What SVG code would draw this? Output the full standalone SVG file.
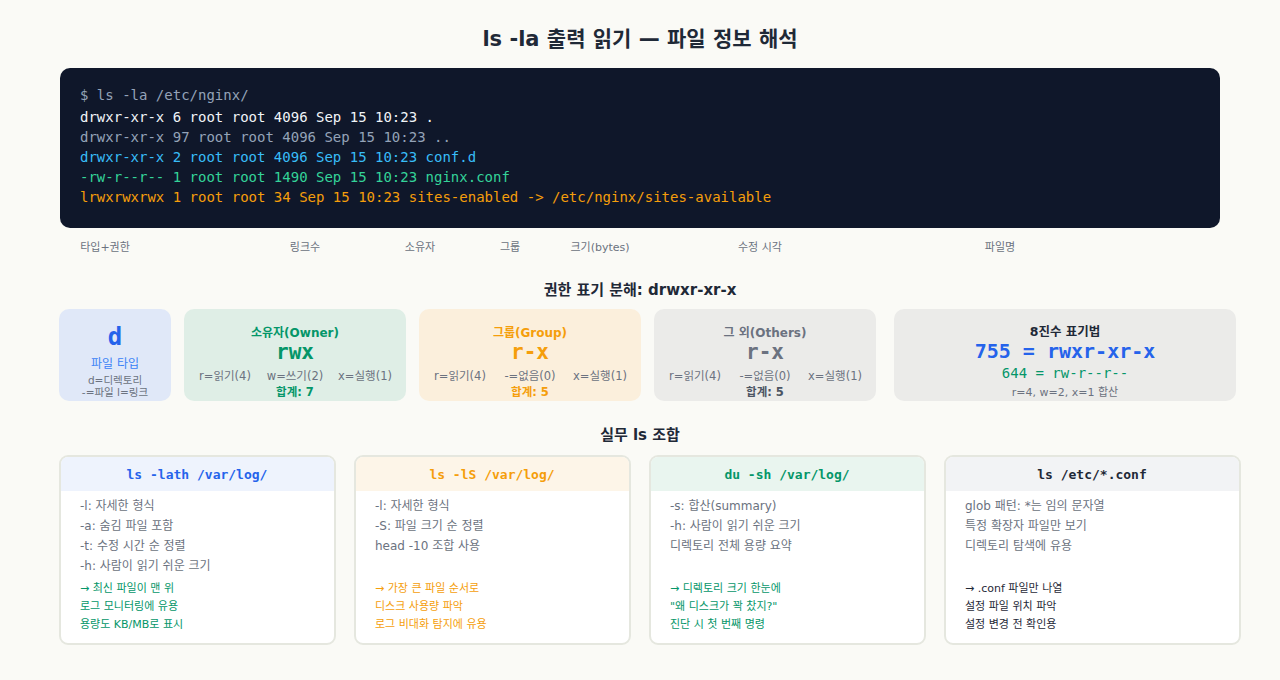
<svg xmlns="http://www.w3.org/2000/svg" width="1280" height="680" viewBox="0 0 1280 680">
<style>
text{font-family:"DejaVu Sans","Noto Sans CJK KR",sans-serif}
.m{font-family:"DejaVu Sans Mono","Noto Sans CJK KR",monospace}
.t{font-size:14px}
.lab{font-size:11px;fill:#6b7280;text-anchor:middle}
.c{text-anchor:middle}
.h{font-size:15px;font-weight:bold;fill:#1f2937;text-anchor:middle}
.s{font-size:11.5px;fill:#6b7280;text-anchor:middle}
.card{fill:#fff;stroke:#e5e7df;stroke-width:2}
.li{font-size:12px;fill:#6b7280}
.ac{font-size:11px}
</style>
<rect width="1280" height="680" fill="#fafaf6"/>
<text x="640" y="46" class="c" font-size="21" font-weight="bold" fill="#1f2937">ls -la 출력 읽기 — 파일 정보 해석</text>
<g id="terminal">
<rect x="60" y="68" width="1160" height="160" rx="10" fill="#0f172a"/>
<text x="80" y="100" class="m t" fill="#94a3b8">$ ls -la /etc/nginx/</text>
<text x="80" y="122" class="m t" fill="#f1f5f9">drwxr-xr-x 6 root root 4096 Sep 15 10:23 .</text>
<text x="80" y="142" class="m t" fill="#94a3b8">drwxr-xr-x 97 root root 4096 Sep 15 10:23 ..</text>
<text x="80" y="162" class="m t" fill="#38bdf8">drwxr-xr-x 2 root root 4096 Sep 15 10:23 conf.d</text>
<text x="80" y="182" class="m t" fill="#34d399">-rw-r--r-- 1 root root 1490 Sep 15 10:23 nginx.conf</text>
<text x="80" y="202" class="m t" fill="#f59e0b">lrwxrwxrwx 1 root root 34 Sep 15 10:23 sites-enabled -&gt; /etc/nginx/sites-available</text>
</g>
<g id="labels">
<text x="105" y="251" class="lab">타입+권한</text>
<text x="305" y="251" class="lab">링크수</text>
<text x="420" y="251" class="lab">소유자</text>
<text x="510" y="251" class="lab">그룹</text>
<text x="600" y="251" class="lab">크기(bytes)</text>
<text x="760" y="251" class="lab">수정 시각</text>
<text x="1000" y="251" class="lab">파일명</text>
</g>
<text x="640" y="295" class="h">권한 표기 분해: drwxr-xr-x</text>
<g id="type">
<rect x="59" y="309" width="112" height="92" rx="10" fill="#e0e8f8"/>
<text x="115" y="345" class="c m" font-size="24" font-weight="bold" fill="#2563eb">d</text>
<text x="115" y="368" class="c" font-size="12" fill="#3b82f6">파일 타입</text>
<text x="115" y="384" class="c" font-size="10.5" fill="#6b7280">d=디렉토리</text>
<text x="115" y="396" class="c" font-size="10.5" fill="#6b7280">-=파일 l=링크</text>
</g>
<g id="owner">
<rect x="184" y="309" width="222" height="92" rx="10" fill="#dfeee6"/>
<text x="295" y="337" class="c" font-size="12" font-weight="bold" fill="#059669">소유자(Owner)</text>
<text x="295" y="359" class="c m" font-size="21" font-weight="bold" fill="#059669">rwx</text>
<text x="225" y="380" class="s">r=읽기(4)</text>
<text x="295" y="380" class="s">w=쓰기(2)</text>
<text x="365" y="380" class="s">x=실행(1)</text>
<text x="295" y="396" class="c" font-size="11.5" font-weight="bold" fill="#059669">합계: 7</text>
</g>
<g id="group">
<rect x="419" y="309" width="222" height="92" rx="10" fill="#fbefdc"/>
<text x="530" y="337" class="c" font-size="12" font-weight="bold" fill="#f59e0b">그룹(Group)</text>
<text x="530" y="359" class="c m" font-size="21" font-weight="bold" fill="#f59e0b">r-x</text>
<text x="460" y="380" class="s">r=읽기(4)</text>
<text x="530" y="380" class="s">-=없음(0)</text>
<text x="600" y="380" class="s">x=실행(1)</text>
<text x="530" y="396" class="c" font-size="11.5" font-weight="bold" fill="#f59e0b">합계: 5</text>
</g>
<g id="others">
<rect x="654" y="309" width="222" height="92" rx="10" fill="#ebebe9"/>
<text x="765" y="337" class="c" font-size="12" font-weight="bold" fill="#6b7280">그 외(Others)</text>
<text x="765" y="359" class="c m" font-size="21" font-weight="bold" fill="#6b7280">r-x</text>
<text x="695" y="380" class="s">r=읽기(4)</text>
<text x="765" y="380" class="s">-=없음(0)</text>
<text x="835" y="380" class="s">x=실행(1)</text>
<text x="765" y="396" class="c" font-size="11.5" font-weight="bold" fill="#4b5563">합계: 5</text>
</g>
<g id="octal">
<rect x="894" y="309" width="342" height="92" rx="10" fill="#ebebe9"/>
<text x="1065" y="336" class="c" font-size="12.5" font-weight="bold" fill="#1f2937">8진수 표기법</text>
<text x="1065" y="358" class="c m" font-size="20" font-weight="bold" fill="#2563eb">755 = rwxr-xr-x</text>
<text x="1065" y="378" class="c m" font-size="14" fill="#059669">644 = rw-r--r--</text>
<text x="1065" y="396" class="c" font-size="11" fill="#6b7280">r=4, w=2, x=1 합산</text>
</g>
<text x="640" y="440" class="h" font-size="14">실무 ls 조합</text>
<g id="card1">
<rect x="60" y="456" width="275" height="188" rx="8" class="card"/>
<path d="M61 491V464a7 7 0 0 1 7-7H327a7 7 0 0 1 7 7V491Z" fill="#eef3fd"/>
<text x="197" y="479" class="c m" font-size="13" font-weight="bold" fill="#2563eb">ls -lath /var/log/</text>
<text x="80" y="510" class="li">-l: 자세한 형식</text>
<text x="80" y="530" class="li">-a: 숨김 파일 포함</text>
<text x="80" y="550" class="li">-t: 수정 시간 순 정렬</text>
<text x="80" y="570" class="li">-h: 사람이 읽기 쉬운 크기</text>
<text x="80" y="592" class="ac" fill="#059669">→ 최신 파일이 맨 위</text>
<text x="80" y="610" class="ac" fill="#059669">로그 모니터링에 유용</text>
<text x="80" y="628" class="ac" fill="#059669">용량도 KB/MB로 표시</text>
</g>
<g id="card2">
<rect x="355" y="456" width="275" height="188" rx="8" class="card"/>
<path d="M356 491V464a7 7 0 0 1 7-7H622a7 7 0 0 1 7 7V491Z" fill="#fdf5e8"/>
<text x="492" y="479" class="c m" font-size="13" font-weight="bold" fill="#f59e0b">ls -lS /var/log/</text>
<text x="375" y="510" class="li">-l: 자세한 형식</text>
<text x="375" y="530" class="li">-S: 파일 크기 순 정렬</text>
<text x="375" y="550" class="li">head -10 조합 사용</text>
<text x="375" y="592" class="ac" fill="#f59e0b">→ 가장 큰 파일 순서로</text>
<text x="375" y="610" class="ac" fill="#f59e0b">디스크 사용량 파악</text>
<text x="375" y="628" class="ac" fill="#f59e0b">로그 비대화 탐지에 유용</text>
</g>
<g id="card3">
<rect x="650" y="456" width="275" height="188" rx="8" class="card"/>
<path d="M651 491V464a7 7 0 0 1 7-7H917a7 7 0 0 1 7 7V491Z" fill="#e9f5ef"/>
<text x="787" y="479" class="c m" font-size="13" font-weight="bold" fill="#059669">du -sh /var/log/</text>
<text x="670" y="510" class="li">-s: 합산(summary)</text>
<text x="670" y="530" class="li">-h: 사람이 읽기 쉬운 크기</text>
<text x="670" y="550" class="li">디렉토리 전체 용량 요약</text>
<text x="670" y="592" class="ac" fill="#059669">→ 디렉토리 크기 한눈에</text>
<text x="670" y="610" class="ac" fill="#059669">"왜 디스크가 꽉 찼지?"</text>
<text x="670" y="628" class="ac" fill="#059669">진단 시 첫 번째 명령</text>
</g>
<g id="card4">
<rect x="945" y="456" width="295" height="188" rx="8" class="card"/>
<path d="M946 491V464a7 7 0 0 1 7-7H1232a7 7 0 0 1 7 7V491Z" fill="#f2f3f5"/>
<text x="1092" y="479" class="c m" font-size="13" font-weight="bold" fill="#1f2937">ls /etc/*.conf</text>
<text x="965" y="510" class="li">glob 패턴: *는 임의 문자열</text>
<text x="965" y="530" class="li">특정 확장자 파일만 보기</text>
<text x="965" y="550" class="li">디렉토리 탐색에 유용</text>
<text x="965" y="592" class="ac" fill="#1f2937">→ .conf 파일만 나열</text>
<text x="965" y="610" class="ac" fill="#1f2937">설정 파일 위치 파악</text>
<text x="965" y="628" class="ac" fill="#1f2937">설정 변경 전 확인용</text>
</g>
<g id="connectors"/>
</svg>
